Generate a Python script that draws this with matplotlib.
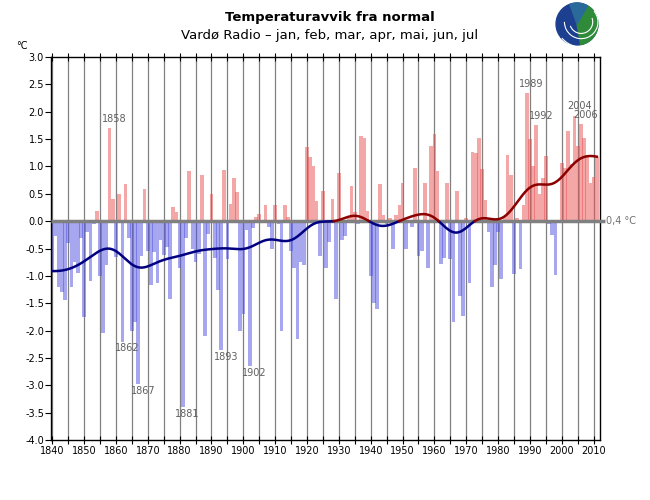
"""
Temperature anomaly bar chart for Vardø Radio (Jan-Jul), with smoothed curve.
"""

import numpy as np
import matplotlib.pyplot as plt
from matplotlib.patches import Circle, Wedge, Arc
from matplotlib.ticker import FormatStrFormatter, MultipleLocator

plt.rcParams["axes.unicode_minus"] = False
plt.rcParams["font.family"] = ["DejaVu Sans"]

first_year = 1840
anomalies = [
    # 1840-1849
    -0.90, -0.27, -1.20, -1.30, -1.45, -0.40, -1.20, -0.75, -0.95, -0.30,
    # 1850-1859
    -1.75, -0.20, -1.10, -0.05, 0.18, -1.00, -2.05, -0.80, 1.70, 0.40,
    # 1860-1869
    -0.65, 0.50, -2.20, 0.67, -0.30, -2.00, -1.84, -2.98, -0.64, 0.59,
    # 1870-1879
    -0.55, -1.16, -0.56, -1.13, -0.35, -0.62, -0.47, -1.42, 0.26, 0.17,
    # 1880-1889
    -0.86, -3.40, -0.30, 0.92, -0.50, -0.74, -0.60, 0.84, -2.10, -0.24,
    # 1890-1899
    0.50, -0.68, -1.25, -2.36, 0.93, -0.69, 0.32, 0.78, 0.53, -2.00,
    # 1900-1909
    -1.70, -0.16, -2.65, -0.12, 0.08, 0.13, -0.03, 0.30, -0.10, -0.50,
    # 1910-1919
    0.30, -0.05, -2.00, 0.30, 0.08, -0.55, -0.85, -2.15, -0.75, -0.80,
    # 1920-1929
    1.36, 1.18, 1.00, 0.37, -0.63, 0.55, -0.86, -0.39, 0.41, -1.42,
    # 1930-1939
    0.88, -0.35, -0.27, 0.05, 0.64, 0.17, -0.06, 1.56, 1.52, 0.18,
    # 1940-1949
    -1.00, -1.50, -1.60, 0.67, 0.12, -0.05, 0.05, -0.50, 0.12, 0.30,
    # 1950-1959
    0.70, -0.50, 0.02, -0.10, 0.98, -0.63, -0.55, 0.70, -0.85, 1.38,
    # 1960-1969
    1.60, 0.92, -0.78, -0.68, 0.70, -0.70, -1.85, 0.56, -1.37, -1.74,
    # 1970-1979
    0.05, -1.13, 1.27, 1.24, 1.52, 0.95, 0.38, -0.20, -1.20, -0.80,
    # 1980-1989
    -0.20, -1.05, 0.10, 1.21, 0.84, -0.97, 0.05, -0.88, 0.30, 2.34,
    # 1990-1999
    1.50, 1.00, 1.76, 0.50, 0.79, 1.19, -0.05, -0.25, -0.98, 0.02,
    # 2000-2009
    1.07, 0.97, 1.65, 1.05, 1.93, 1.38, 1.77, 1.52, 1.17, 0.70,
    # 2010-2011
    0.80, 1.17,
]
labelled_years = [1858, 1862, 1867, 1881, 1893, 1902, 1989, 1992, 2004, 2006]
normal_label = "0,4 °C"
title = "Temperaturavvik fra normal"
subtitle = "Vardø Radio – jan, feb, mar, apr, mai, jun, jul"

years = np.arange(first_year, first_year + len(anomalies))
values = np.array(anomalies)

# Gaussian smoothing of the yearly values (kernel weights renormalised at the ends)
sigma = 5.0
xs = np.linspace(years[0], years[-1], 1711)
w = np.exp(-0.5 * ((xs[:, None] - years[None, :]) / sigma) ** 2)
smooth = (w * values).sum(axis=1) / w.sum(axis=1)

fig = plt.figure(figsize=(6.5, 5), dpi=100)
ax = fig.add_axes([51 / 650, 60 / 500, 549 / 650, 383 / 500])

colors = np.where(values >= 0, "#e85050", "#5050e0")
ax.bar(years, values, width=1.15, color=colors, alpha=0.5, linewidth=0, zorder=2)

# zero line reaching a bit past the right axis, with the normal value
ax.plot([1839.6, 2013.6], [0, 0], color="#808080", lw=2.5, zorder=3,
        clip_on=False, solid_capstyle="butt")
ax.text(2014.0, 0, normal_label, fontsize=7, color="#707070", va="center",
        ha="left", clip_on=False)

neg = np.where(smooth <= 0, smooth, np.nan)
pos = np.where(smooth >= 0, smooth, np.nan)
ax.plot(xs, neg, color="#000080", lw=1.8, zorder=4)
ax.plot(xs, pos, color="#8b0000", lw=1.8, zorder=4)

for yr in labelled_years:
    v = values[yr - first_year]
    if v >= 0:
        ax.text(yr + 1.5, v + 0.17, str(yr), fontsize=7, color="#606060",
                ha="center", va="center", zorder=5)
    else:
        ax.text(yr + 1.5, v - 0.12, str(yr), fontsize=7, color="#606060",
                ha="center", va="center", zorder=5)

ax.set_xlim(1839.6, 2012.0)
ax.set_ylim(-4.0, 3.0)
ax.xaxis.set_major_locator(MultipleLocator(10))
ax.xaxis.set_minor_locator(MultipleLocator(5))
ax.yaxis.set_major_locator(MultipleLocator(0.5))
ax.yaxis.set_major_formatter(FormatStrFormatter("%.1f"))
ax.grid(axis="x", which="both", color="#808080", lw=0.9, zorder=1)
ax.tick_params(axis="x", which="both", direction="inout", length=6,
               top=True, labelsize=7, pad=1, width=0.8)
ax.tick_params(axis="y", which="both", direction="out", length=4,
               labelsize=7, pad=1, width=0.8)
for s in ax.spines.values():
    s.set_color("black")
    s.set_linewidth(1.0)

fig.text(22 / 650, 1 - 46 / 500, "°C", fontsize=7, ha="center", va="center")
fig.text(330 / 650, 1 - 17 / 500, title, fontsize=9.5, fontweight="bold",
         ha="center", va="center")
fig.text(330 / 650, 1 - 35 / 500, subtitle, fontsize=9.5, ha="center",
         va="center")

# small round logo at top right
lax = fig.add_axes([555 / 650, 1 - 46 / 500, 44 / 650, 44 / 500])
lax.set_xlim(-1.05, 1.05)
lax.set_ylim(-1.05, 1.05)
lax.set_aspect("equal")
lax.axis("off")
lax.add_patch(Circle((0, 0), 1.0, color="#1d3f8f"))
lax.add_patch(Wedge((0, 0), 1.0, -80, 60, color="#2f8a3a"))
lax.add_patch(Wedge((0, 0), 1.0, 60, 110, color="#2a6a9a"))
for r, t1, t2 in [(0.55, 200, 20), (0.8, 180, 40), (1.2, 220, 300)]:
    lax.add_patch(Arc((0.2, 0.1), 2 * r, 2 * r, theta1=t1, theta2=t2,
                      color="white", lw=0.8))

fig.savefig("out.png", dpi=100)
